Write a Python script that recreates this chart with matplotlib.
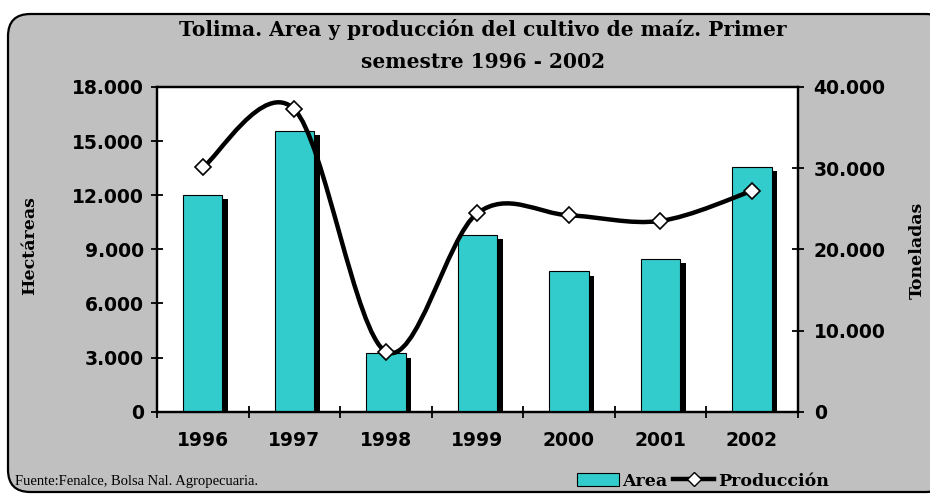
import numpy as np
import matplotlib
matplotlib.use("Agg")
import matplotlib.pyplot as plt
import matplotlib.patheffects as pe
from matplotlib.patches import FancyBboxPatch, Patch
from matplotlib.path import Path
from matplotlib.patches import PathPatch
from matplotlib.lines import Line2D
from matplotlib.ticker import FuncFormatter

# datos
anios = ["1996", "1997", "1998", "1999", "2000", "2001", "2002"]
area_ha = [12000, 15550, 3230, 9800, 7780, 8450, 13560]
produccion_t = [30100, 37250, 7400, 24450, 24200, 23500, 27200]

W, H = 930, 496
fig = plt.figure(figsize=(W / 100, H / 100), dpi=100)
fig.patch.set_facecolor("white")

# marco gris redondeado
marco = FancyBboxPatch((8 / W, 4 / H), 940 / W, 478 / H,
                       boxstyle="round,pad=0,rounding_size=0.024",
                       transform=fig.transFigure, facecolor="#C0C0C0",
                       edgecolor="black", linewidth=1.6, zorder=-5,
                       mutation_aspect=W / H)
fig.patches.append(marco)

ax1 = fig.add_axes([157 / W, 1 - 411.7 / H, (797.7 - 157) / W, (411.7 - 87) / H])
ax1.set_facecolor("white")
ax2 = ax1.twinx()

x = np.arange(len(anios))
bold = dict(fontweight="bold", family="DejaVu Sans")

ax1.bar(x, area_ha, width=0.43, color="#33CCCC", edgecolor="black",
        linewidth=0.8, zorder=3,
        path_effects=[pe.SimplePatchShadow(offset=(4, -3), shadow_rgbFace="black", alpha=1),
                      pe.Normal()])

# linea suavizada (estilo Excel) con curvas de Bezier
pts = np.column_stack([x, produccion_t]).astype(float)
verts = [tuple(pts[0])]
codes = [Path.MOVETO]
n = len(pts)
for i in range(n - 1):
    p0 = pts[i - 1] if i > 0 else pts[i]
    p1 = pts[i]
    p2 = pts[i + 1]
    p3 = pts[i + 2] if i + 2 < n else pts[i + 1]
    c1 = p1 + (p2 - p0) / 6
    c2 = p2 - (p3 - p1) / 6
    verts += [tuple(c1), tuple(c2), tuple(p2)]
    codes += [Path.CURVE4] * 3
curva = PathPatch(Path(verts, codes), facecolor="none", edgecolor="black",
                  linewidth=3.2, zorder=4)
ax2.add_patch(curva)
ax2.plot(x, produccion_t, linestyle="none", marker="D", markersize=8,
         markerfacecolor="white", markeredgecolor="black", markeredgewidth=1.2, zorder=5)

ax1.set_xlim(-0.5, len(anios) - 0.5)
ax1.set_ylim(0, 18000)
ax2.set_ylim(0, 40000)
ax1.set_yticks(np.arange(0, 18001, 3000))
ax2.set_yticks(np.arange(0, 40001, 10000))
fmt = FuncFormatter(lambda v, p: "{:,.0f}".format(v).replace(",", "."))
ax1.yaxis.set_major_formatter(fmt)
ax2.yaxis.set_major_formatter(fmt)

ax1.set_xticks(np.arange(-0.5, len(anios) - 0.4, 1.0))
ax1.set_xticklabels([])
ax1.set_xticks(x, minor=True)
ax1.set_xticklabels(anios, minor=True, fontsize=13.5, **bold)
ax1.tick_params(axis="x", which="minor", length=0, pad=14)
ax1.tick_params(axis="x", which="major", direction="inout", length=9, width=1.3)
ax1.tick_params(axis="y", direction="inout", length=9, width=1.3, labelsize=13.5, pad=5)
ax2.tick_params(axis="y", direction="inout", length=9, width=1.3, labelsize=13.5, pad=7)
for lab in ax1.get_yticklabels() + ax2.get_yticklabels():
    lab.set_fontweight("bold")
    lab.set_family("DejaVu Sans")

for ax in (ax1, ax2):
    for s in ax.spines.values():
        s.set_linewidth(1.6)

fig.text(30 / W, 1 - 246 / H, "Hectáreas", rotation=90, ha="center", va="center",
         fontsize=12.5, fontweight="bold", family="DejaVu Serif")
fig.text(917 / W, 1 - 250 / H, "Toneladas", rotation=90, ha="center", va="center",
         fontsize=12.5, fontweight="bold", family="DejaVu Serif")

fig.text(483 / W, 1 - 30 / H, "Tolima. Area y producción del cultivo de maíz. Primer",
         ha="center", va="center", fontsize=14.5, fontweight="bold", family="DejaVu Serif")
fig.text(483 / W, 1 - 62 / H, "semestre 1996 - 2002",
         ha="center", va="center", fontsize=14.5, fontweight="bold", family="DejaVu Serif")

fig.text(15 / W, 1 - 482 / H, "Fuente:Fenalce, Bolsa Nal. Agropecuaria.",
         ha="left", va="center", fontsize=10.5, family="Liberation Serif")

handles = [Patch(facecolor="#33CCCC", edgecolor="black", linewidth=0.8),
           Line2D([], [], color="black", linewidth=3.2, marker="D", markersize=7,
                  markerfacecolor="white", markeredgecolor="black")]
fig.legend(handles, ["Area", "Producción"], loc="center", bbox_to_anchor=(703 / W, 1 - 481 / H),
           ncol=2, frameon=False, handlelength=2.4, handletextpad=0.2, columnspacing=0.3,
           prop=dict(weight="bold", family="DejaVu Serif", size=12.5))

fig.savefig("out.png", dpi=100)
